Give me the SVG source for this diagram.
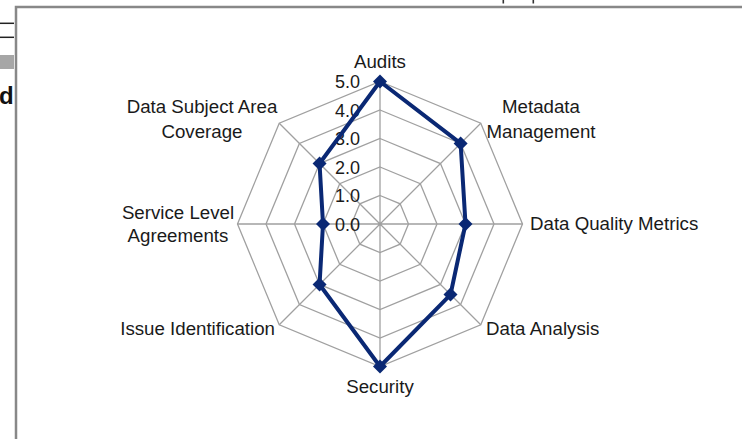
<svg xmlns="http://www.w3.org/2000/svg" width="742" height="439" viewBox="0 0 742 439">
<style>
.grid{fill:none;stroke:#a0a0a0;stroke-width:1.3}
.lbl{font-family:"Liberation Sans",Arial,sans-serif;font-size:18.7px;fill:#1a1a1a}
.tick{font-family:"Liberation Sans",Arial,sans-serif;font-size:18px;fill:#1a1a1a;text-anchor:end}
.series{fill:none;stroke:#0a2874;stroke-width:4;stroke-linejoin:round}
.frame{stroke:#888;stroke-width:2.5;fill:none}
</style>
<defs>
<path id="mk" d="M0,-7 L7,0 L0,7 L-7,0 Z" fill="#0a2874"/>
</defs>
<rect width="742" height="439" fill="#fff"/>
<g id="edge-fragments">
<line x1="0" y1="23.3" x2="14" y2="23.3" stroke="#222" stroke-width="1.5"/>
<line x1="0" y1="37.3" x2="14" y2="37.3" stroke="#222" stroke-width="1.5"/>
<rect x="0" y="55" width="14" height="14" fill="#a6a6a6"/>
<text x="-1" y="104" font-family="Liberation Sans,Arial,sans-serif" font-size="24" font-weight="bold" fill="#111">d</text>
<rect x="502.5" y="0" width="1.6" height="3.5" fill="#333"/>
<rect x="532.5" y="0" width="1.6" height="3.5" fill="#333"/>
</g>
<g id="frame">
<path class="frame" d="M16,439 V7 H742"/>
</g>
<g id="grid">
<polygon class="grid" points="380,195.5 400.15,203.85 408.5,224 400.15,244.15 380,252.5 359.85,244.15 351.5,224 359.85,203.85"/>
<polygon class="grid" points="380,167 420.31,183.69 437,224 420.31,264.31 380,281 339.69,264.31 323,224 339.69,183.69"/>
<polygon class="grid" points="380,138.5 440.46,163.54 465.5,224 440.46,284.46 380,309.5 319.54,284.46 294.5,224 319.54,163.54"/>
<polygon class="grid" points="380,110 460.61,143.39 494,224 460.61,304.61 380,338 299.39,304.61 266,224 299.39,143.39"/>
<polygon class="grid" points="380,81.5 480.76,123.24 522.5,224 480.76,324.76 380,366.5 279.24,324.76 237.5,224 279.24,123.24"/>
<path class="grid" d="M380,224 L380,81.5 M380,224 L480.76,123.24 M380,224 L522.5,224 M380,224 L480.76,324.76 M380,224 L380,366.5 M380,224 L279.24,324.76 M380,224 L237.5,224 M380,224 L279.24,123.24"/>
</g>
<g id="ticks">
<text class="tick" x="360" y="88">5.0</text>
<text class="tick" x="360" y="116.5">4.0</text>
<text class="tick" x="360" y="145">3.0</text>
<text class="tick" x="360" y="173.5">2.0</text>
<text class="tick" x="360" y="202">1.0</text>
<text class="tick" x="360" y="230.5">0.0</text>
</g>
<g id="connectors">
<polygon class="series" points="380,81.5 460.61,143.39 465.5,224 450.53,294.53 380,366.5 319.54,284.46 323,224 319.54,163.54"/>
</g>
<g id="markers">
<use href="#mk" x="380" y="81.5"/>
<use href="#mk" x="460.61" y="143.39"/>
<use href="#mk" x="465.5" y="224"/>
<use href="#mk" x="450.53" y="294.53"/>
<use href="#mk" x="380" y="366.5"/>
<use href="#mk" x="319.54" y="284.46"/>
<use href="#mk" x="323" y="224"/>
<use href="#mk" x="319.54" y="163.54"/>
</g>
<g id="audits"><text class="lbl" x="380" y="68" text-anchor="middle">Audits</text></g>
<g id="metadata-management"><text class="lbl" x="541" y="113" text-anchor="middle">Metadata</text><text class="lbl" x="541" y="138" text-anchor="middle">Management</text></g>
<g id="data-quality-metrics"><text class="lbl" x="530" y="230">Data Quality Metrics</text></g>
<g id="data-analysis"><text class="lbl" x="486" y="335">Data Analysis</text></g>
<g id="security"><text class="lbl" x="380" y="393" text-anchor="middle">Security</text></g>
<g id="issue-identification"><text class="lbl" x="275" y="335" text-anchor="end">Issue Identification</text></g>
<g id="service-level-agreements"><text class="lbl" x="178" y="219" text-anchor="middle">Service Level</text><text class="lbl" x="178" y="242" text-anchor="middle">Agreements</text></g>
<g id="data-subject-area-coverage"><text class="lbl" x="202" y="113" text-anchor="middle">Data Subject Area</text><text class="lbl" x="202" y="138" text-anchor="middle">Coverage</text></g>
</svg>
